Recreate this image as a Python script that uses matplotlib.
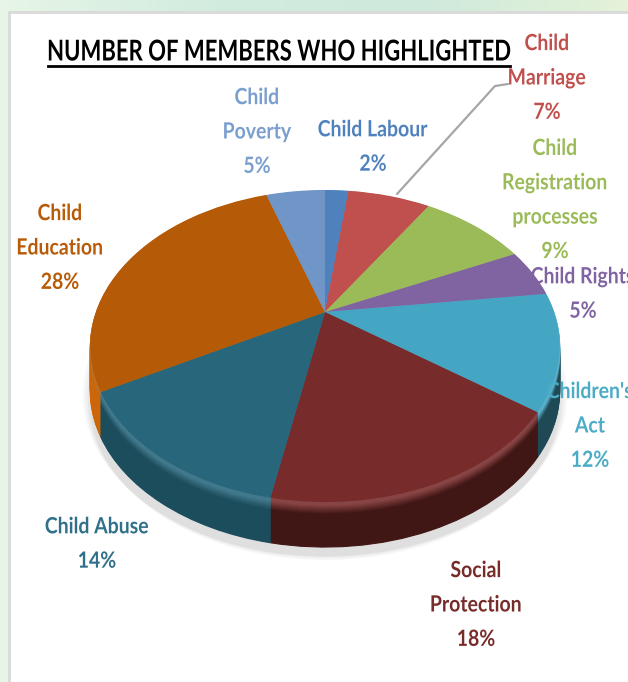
import matplotlib
matplotlib.use("Agg")
import matplotlib.pyplot as plt
import numpy as np
from matplotlib.transforms import Transform, Affine2D
from matplotlib.colors import to_rgb, LinearSegmentedColormap
from matplotlib.patches import Rectangle
from matplotlib.patheffects import AbstractPathEffect

categories = ["Child Labour", "Child\nMarriage", "Child\nRegistration\nprocesses", "Child Rights",
              "Children's\nAct", "Social\nProtection", "Child Abuse", "Child\nEducation", "Child\nPoverty"]
values = [2, 7, 9, 5, 12, 18, 14, 28, 5]
top_colors = ["#4f81bd", "#c0504d", "#9bbb59", "#8064a2", "#45a6c3", "#772b2a", "#27667b", "#b55a06", "#7096c8"]
side_colors = ["#2f4f78", "#7a3230", "#627838", "#503f66", "#1f4a55", "#411716", "#1c4d5d", "#cc6608", "#46608a"]
label_colors = ["#4f81bd", "#c0504d", "#9bbb59", "#8064a2", "#4bacc6", "#772c2a", "#31708a", "#b85a06", "#7a9fcf"]
label_x = [373, 547, 555, 583, 590, 476, 97, 60, 257]
label_y = [148, 79, 201, 295, 427, 606, 545, 249, 133]
title = "NUMBER OF MEMBERS WHO HIGHLIGHTED"
FONT = "Lato"


class TallText(AbstractPathEffect):
    """Stretch glyphs upward from their baseline; the reference text is tall and narrow."""

    def __init__(self, sy):
        super().__init__()
        self.sy = sy

    def draw_path(self, renderer, gc, tpath, affine, rgbFace=None):
        renderer.draw_path(gc, tpath, Affine2D().scale(1, self.sy) + affine, rgbFace)


class Tilt(Transform):
    """Perspective view of the unit pie, in reference pixels."""
    input_dims = output_dims = 2
    is_separable = False
    has_inverse = False

    def __init__(self, dy=0.0, scale=1.0):
        super().__init__()
        self.dy, self.scale = dy, scale

    def transform_non_affine(self, v):
        v = np.asarray(v, float)
        x, y = v[:, 0] * self.scale, v[:, 1] * self.scale
        w = 1 + 0.218 * y
        return np.column_stack([325 + 229 * x / w, 312 + self.dy - 148.6 * y / w])


def mix(a, b, t):
    a, b = np.array(to_rgb(a)), np.array(to_rgb(b))
    return tuple(a + (b - a) * t)


fig = plt.figure(figsize=(6.28, 6.82), dpi=100)
ax = fig.add_axes([0, 0, 1, 1])


def draw(colors, tr, edge=False, **wp):
    wedges, _ = ax.pie(values, colors=colors, startangle=90, counterclock=False,
                       frame=True, wedgeprops=wp)
    for w in wedges:
        w.set_transform(tr + ax.transData)
        w.set_clip_on(False)
        w.set_zorder(2)
        if edge:
            w.set_edgecolor(w.get_facecolor())
            w.set_linewidth(0.8)


# background and panel
bg = LinearSegmentedColormap.from_list("bg", ["#e6f5e6", "#d2ecdf", "#cfe9dc", "#e3f2d8"])
ax.imshow(np.linspace(0, 1, 64)[None, :], extent=(0, 628, 682, 0), cmap=bg, aspect="auto", zorder=0)
ax.add_patch(Rectangle((9, 12), 640, 700, fc="white", ec="#d9d9d9", lw=2, zorder=1))

# soft shadow
for d, s in [(58, 1.0), (54, 1.01), (50, 1.02), (47, 1.03)]:
    draw(["#000000"] * len(values), Tilt(d, s), linewidth=0, alpha=0.03)

# extruded side, deepest first
for d in range(45, 0, -1):
    cols = []
    for t, s in zip(top_colors, side_colors):
        hi = mix(t, "#ffffff", 0.12)
        if d <= 3:
            cols.append(hi)
        elif d < 12:
            cols.append(mix(hi, s, (d - 3) / 9))
        else:
            cols.append(s)
    draw(cols, Tilt(d), edge=True)

# top face
draw(top_colors, Tilt(0), linewidth=0)

ax.set_xlim(0, 628)
ax.set_ylim(682, 0)
ax.set_aspect("auto")
ax.axis("off")

# leader line
ax.plot([397, 495, 508], [194, 86, 84], color="#a6a6a6", lw=1.6, zorder=3, solid_capstyle="round")

# title
ax.text(279, 54, title, ha="center", va="center", fontsize=15.9, family=FONT, fontweight="bold",
        color="black", zorder=4, path_effects=[TallText(1.3)])
ax.plot([48, 510], [65.5, 65.5], color="black", lw=2, zorder=4)

# labels
for c, v, col, x, y in zip(categories, values, label_colors, label_x, label_y):
    ax.text(x, y, f"{c}\n{v}%", ha="center", va="center", color=col, family=FONT, fontsize=14,
            fontweight="bold", linespacing=2.24, zorder=5, clip_on=True, path_effects=[TallText(1.15)])

fig.savefig("out.png", dpi=100)
